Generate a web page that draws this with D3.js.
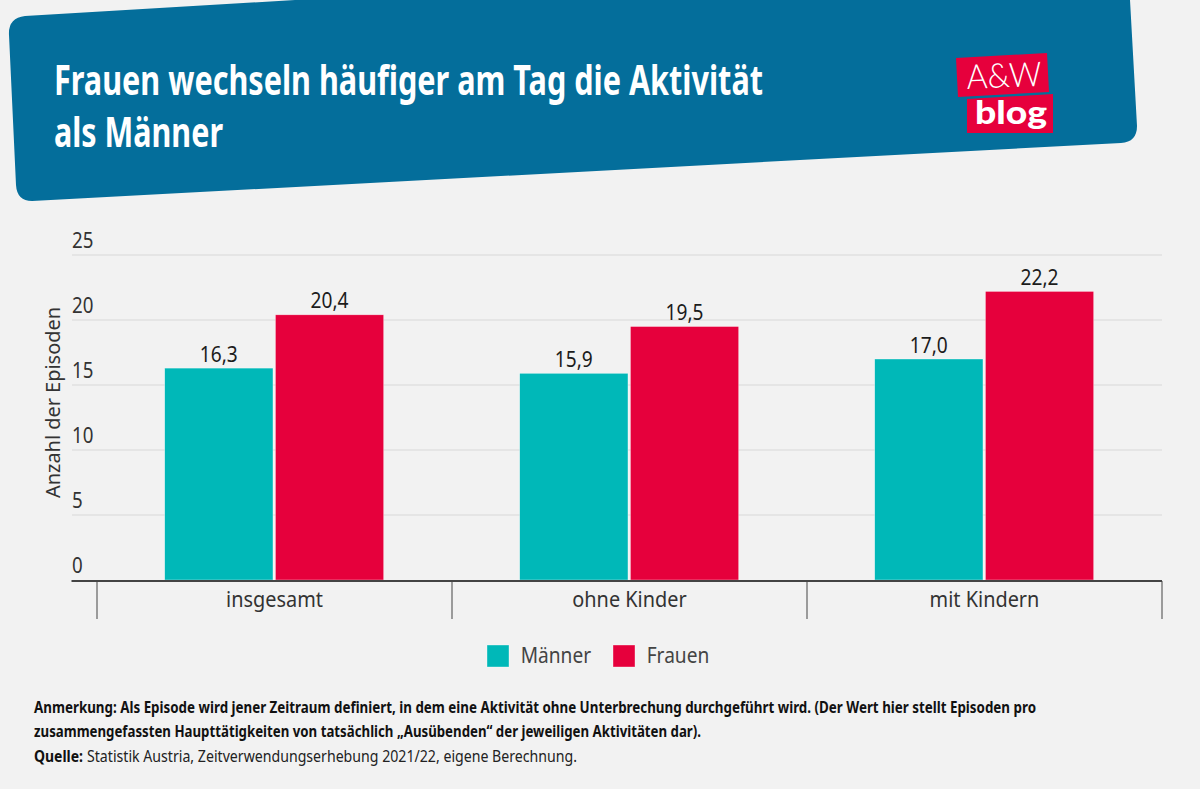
<!DOCTYPE html>
<html>
<head>
<meta charset="utf-8">
<script src="https://cdn.jsdelivr.net/npm/d3@7"></script>
<style>
  html, body { margin: 0; padding: 0; background: #f2f2f2; }
  svg { display: block; }
  text { font-family: "Noto Sans", sans-serif; }
</style>
</head>
<body>
<script>
var categories = ["insgesamt", "ohne Kinder", "mit Kindern"];
var seriesNames = ["Männer", "Frauen"];
var maenner = [16.3, 15.9, 17.0];
var frauen = [20.4, 19.5, 22.2];
var yTicks = [0, 5, 10, 15, 20, 25];
var seriesColors = ["#00b8b8", "#e6003c"];
var titleLines = ["Frauen wechseln häufiger am Tag die Aktivität", "als Männer"];

var width = 1200;
var height = 789;
var svg = d3.select("body").append("svg").attr("width", width).attr("height", height);

// banner
svg.append("path")
  .attr("d", "M9,35 Q8,18 25,16 L295,0 L1130,0 L1137,126 Q1137,142 1121,143 L32,201 Q17,201 16,185 Z")
  .attr("fill", "#046e9b");

// squeezed text stands in for the narrow font of the original
function fitText(sel, x, y, str, size, weight, len, fill) {
  return sel.append("text")
    .attr("x", x).attr("y", y)
    .attr("font-size", size)
    .attr("font-weight", weight)
    .attr("fill", fill)
    .attr("textLength", len)
    .attr("lengthAdjust", "spacingAndGlyphs")
    .text(str);
}

// narrow a whole selection by a factor of its natural width
function squeeze(sel, factor) {
  sel.each(function() {
    d3.select(this)
      .attr("textLength", this.getComputedTextLength() * factor)
      .attr("lengthAdjust", "spacingAndGlyphs");
  });
}

fitText(svg, 54, 95, titleLines[0], 42, 700, 709, "#fff");
fitText(svg, 54, 147, titleLines[1], 42, 700, 169, "#fff");

// logo
svg.append("path").attr("d", "M956,58 L1047,53 L1049,92 L958,97 Z").attr("fill", "#e6003c");
svg.append("path").attr("d", "M967,99 L1053,94 L1053,133 L967,133 Z").attr("fill", "#e6003c");
svg.append("text")
  .attr("transform", "translate(967,89) rotate(-2.5)")
  .attr("font-size", 34).attr("font-weight", 300).attr("fill", "#fff")
  .attr("textLength", 75).attr("lengthAdjust", "spacingAndGlyphs")
  .style("font-family", "Lato")
  .text("A&W");
svg.append("text")
  .attr("x", 975).attr("y", 124)
  .attr("font-size", 32).attr("font-weight", 900).attr("fill", "#fff")
  .attr("textLength", 72).attr("lengthAdjust", "spacingAndGlyphs")
  .style("font-family", "Lato")
  .text("blog");

// scales
var yScale = d3.scaleLinear().domain([0, 25]).range([580, 255]);
var xScale = d3.scaleBand().domain(categories).range([97, 1162]);
var xInner = d3.scaleBand().domain(seriesNames)
  .range([67.7, 286.7]).paddingInner(0.022);

// grid + y labels
var grid = svg.append("g");
grid.selectAll("line").data(yTicks.slice(1)).enter().append("line")
  .attr("x1", 72).attr("x2", 1162)
  .attr("y1", function(d) { return yScale(d); })
  .attr("y2", function(d) { return yScale(d); })
  .attr("stroke", "#e0e0e0").attr("stroke-width", 1.5);
grid.selectAll("text").data(yTicks).enter().append("text")
  .attr("x", 72)
  .attr("y", function(d) { return yScale(d) - 7; })
  .attr("font-size", 21.5).attr("fill", "#333")
  .text(function(d) { return d; })
  .call(squeeze, 0.87);

fitText(svg, 0, 0, "Anzahl der Episoden", 20.5, 400, 191, "#333")
  .attr("transform", "translate(59.5,498) rotate(-90)");

// bars
var rows = categories.map(function(c, i) {
  return { cat: c, vals: [maenner[i], frauen[i]] };
});
var groups = svg.append("g").selectAll("g").data(rows).enter().append("g")
  .attr("transform", function(d) { return "translate(" + xScale(d.cat) + ",0)"; });
groups.selectAll("rect")
  .data(function(d) { return d.vals; })
  .enter().append("rect")
  .attr("x", function(d, i) { return xInner(seriesNames[i]); })
  .attr("y", function(d) { return yScale(d); })
  .attr("width", xInner.bandwidth())
  .attr("height", function(d) { return yScale(0) - yScale(d); })
  .attr("fill", function(d, i) { return seriesColors[i]; })
  .attr("stroke", "#fff").attr("stroke-opacity", 0.6).attr("stroke-width", 0.6);
groups.selectAll("text")
  .data(function(d) { return d.vals; })
  .enter().append("text")
  .attr("x", function(d, i) { return xInner(seriesNames[i]) + xInner.bandwidth() / 2; })
  .attr("y", function(d) { return yScale(d) - 6.5; })
  .attr("text-anchor", "middle")
  .attr("font-size", 21.5).attr("fill", "#1c1c1c")
  .text(function(d) { return d.toFixed(1).replace(".", ","); })
  .call(squeeze, 0.89);

// x axis
svg.append("line")
  .attr("x1", 71.5).attr("x2", 1162).attr("y1", 581).attr("y2", 581)
  .attr("stroke", "#444").attr("stroke-width", 2);
var seps = categories.map(function(c) { return xScale(c); }).concat([xScale.range()[1]]);
svg.append("g").selectAll("line").data(seps).enter().append("line")
  .attr("x1", function(d) { return d; })
  .attr("x2", function(d) { return d; })
  .attr("y1", 581).attr("y2", 619)
  .attr("stroke", "#444").attr("stroke-width", 1);
svg.append("g").selectAll("text").data(categories).enter().append("text")
  .attr("x", function(d) { return xScale(d) + xScale.bandwidth() / 2; })
  .attr("y", 607)
  .attr("text-anchor", "middle")
  .attr("font-size", 21.5).attr("fill", "#333")
  .text(function(d) { return d; })
  .call(squeeze, 0.925);

// legend
var legendX = [487, 613];
var legend = svg.append("g").selectAll("g").data(seriesNames).enter().append("g")
  .attr("transform", function(d, i) { return "translate(" + legendX[i] + ",645)"; });
legend.append("rect")
  .attr("width", 22).attr("height", 22)
  .attr("fill", function(d, i) { return seriesColors[i]; })
  .attr("stroke", "#fff").attr("stroke-opacity", 0.6).attr("stroke-width", 0.6);
legend.append("text")
  .attr("x", 33.7).attr("y", 17.7)
  .attr("font-size", 21.5).attr("fill", "#444")
  .text(function(d) { return d; })
  .call(squeeze, 0.89);

// footnote
fitText(svg, 34, 713, "Anmerkung: Als Episode wird jener Zeitraum definiert, in dem eine Aktivität ohne Unterbrechung durchgeführt wird. (Der Wert hier stellt Episoden pro", 15.5, 700, 1002, "#111");
fitText(svg, 34, 737, "zusammengefassten Haupttätigkeiten von tatsächlich „Ausübenden“ der jeweiligen Aktivitäten dar).", 15.5, 700, 667, "#111");
fitText(svg, 34, 762, "Quelle:", 15.5, 700, 49, "#111");
fitText(svg, 87, 762, "Statistik Austria, Zeitverwendungserhebung 2021/22, eigene Berechnung.", 15.5, 400, 490, "#222");
</script>
</body>
</html>
